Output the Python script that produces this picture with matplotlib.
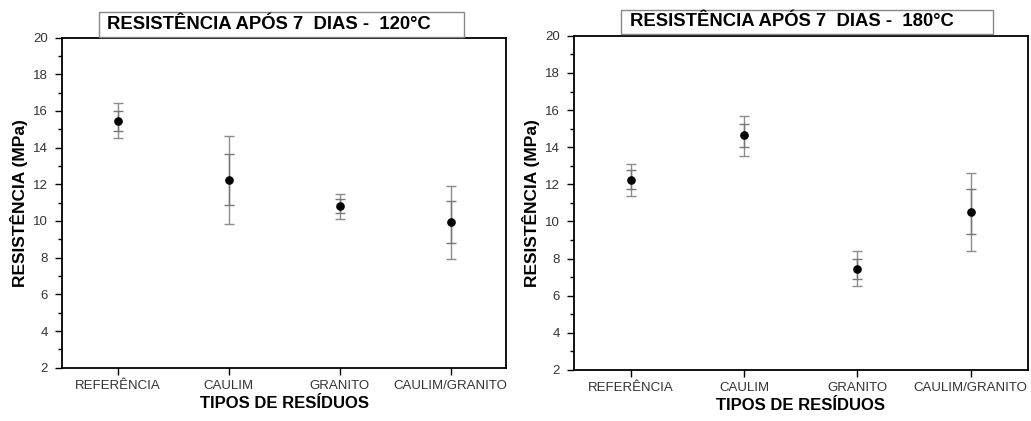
import matplotlib
matplotlib.use('Agg')
import matplotlib.pyplot as plt
from matplotlib.patches import Rectangle

plt.rcParams['font.family'] = ['Liberation Sans', 'DejaVu Sans']

categories = ['REFERÊNCIA', 'CAULIM', 'GRANITO', 'CAULIM/GRANITO']

# 120 C: mean, inner ticks (lo/hi), outer caps (lo/hi)
mean_120 = [15.46, 12.25, 10.81, 9.92]
inner_lo_120 = [14.89, 10.85, 10.41, 8.80]
inner_hi_120 = [16.00, 13.63, 11.19, 11.07]
outer_lo_120 = [14.50, 9.83, 10.12, 7.91]
outer_hi_120 = [16.44, 14.65, 11.45, 11.92]

# 180 C
mean_180 = [12.25, 14.68, 7.46, 10.50]
inner_lo_180 = [11.73, 14.03, 6.89, 9.30]
inner_hi_180 = [12.76, 15.27, 8.00, 11.75]
outer_lo_180 = [11.36, 13.55, 6.51, 8.43]
outer_hi_180 = [13.12, 15.70, 8.41, 12.62]

titles = ['RESISTÊNCIA APÓS 7  DIAS -  120°C', 'RESISTÊNCIA APÓS 7  DIAS -  180°C']

W, H = 1031, 421
fig = plt.figure(figsize=(W / 100, H / 100), dpi=100)

ax1 = fig.add_axes([62 / W, 1 - 367.7 / H, 444 / W, 330.2 / H])
ax2 = fig.add_axes([574 / W, 1 - 370 / H, 453.5 / W, 334.2 / H])

panels = [
    (ax1, mean_120, inner_lo_120, inner_hi_120, outer_lo_120, outer_hi_120),
    (ax2, mean_180, inner_lo_180, inner_hi_180, outer_lo_180, outer_hi_180),
]

x = [1, 2, 3, 4]
for ax, m, ilo, ihi, olo, ohi in panels:
    outer_err = [[a - b for a, b in zip(m, olo)], [b - a for a, b in zip(m, ohi)]]
    inner_err = [[a - b for a, b in zip(m, ilo)], [b - a for a, b in zip(m, ihi)]]
    ax.errorbar(x, m, yerr=outer_err, fmt='none', ecolor='#8c8c8c',
                elinewidth=1, capsize=3.5, capthick=1)
    ax.errorbar(x, m, yerr=inner_err, fmt='o', color='black', ms=5.2,
                ecolor='#777777', elinewidth=1, capsize=3.5, capthick=1)

    ax.set_xlim(0.5, 4.5)
    ax.set_ylim(2, 20)
    ax.set_xticks(x)
    ax.set_xticklabels(categories, fontsize=9.5, color='#333333')
    ax.set_yticks(range(2, 21, 2))
    ax.set_yticks(range(3, 20, 2), minor=True)
    ax.tick_params(axis='y', labelsize=9.5, labelcolor='#333333', pad=5)
    ax.tick_params(axis='x', pad=3.5)
    ax.tick_params(which='major', direction='out', length=5, width=1)
    ax.tick_params(which='minor', direction='out', length=3, width=1)
    ax.tick_params(axis='x', which='minor', bottom=False)
    for s in ax.spines.values():
        s.set_linewidth(1.3)
    ax.set_ylabel('RESISTÊNCIA (MPa)', fontsize=12.5, fontweight='bold', labelpad=4)
    ax.set_xlabel('TIPOS DE RESÍDUOS', fontsize=12, fontweight='bold', labelpad=3)

# title boxes
boxes = [(99, 12, 464, 37.3, 107), (621, 9.7, 993, 34.3, 630)]
for (x0, y0, x1, y1, tx), t in zip(boxes, titles):
    fig.patches.append(Rectangle((x0 / W, 1 - y1 / H), (x1 - x0) / W, (y1 - y0) / H,
                                 transform=fig.transFigure, fc='white', ec='#888888',
                                 lw=1, zorder=5))
    fig.text(tx / W, 1 - (y0 + y1) / 2 / H, t, fontsize=13.3, fontweight='bold',
             va='center', ha='left', zorder=6)

fig.savefig('out.png', dpi=100)
